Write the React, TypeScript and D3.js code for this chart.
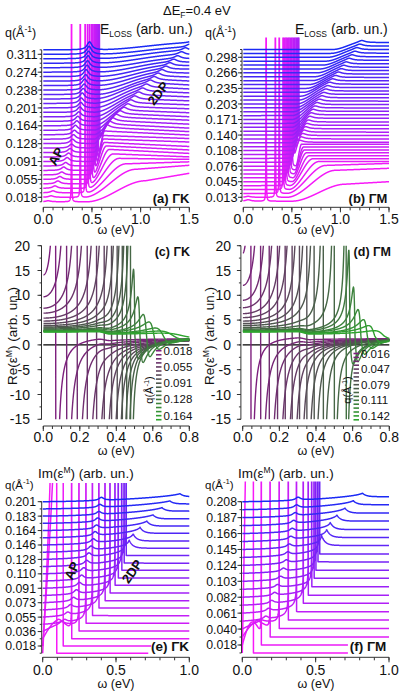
import React from "react";
import * as d3 from "d3";

const FF = "'Liberation Sans', Arial, Helvetica, sans-serif";

// ---------------- (a) ΓK  E_LOSS ----------------
const qA = [0.009,0.018,0.027,0.037,0.046,0.055,0.064,0.073,0.082,0.091,0.101,0.110,0.119,0.128,0.137,0.146,0.155,0.164,0.174,0.183,0.192,0.201,0.210,0.219,0.229,0.238,0.247,0.256,0.265,0.274,0.283,0.293,0.302,0.311,0.320];
const qTickA = ["0.018","0.055","0.091","0.128","0.164","0.201","0.238","0.274","0.311"];
const spkA = [0.29,0.38,0.43,0.455,0.475,0.495,0.51,0.525,0.54,0.55,0.56,0.57,0.575,0,0,0,0,0,0,0,0,0,0,0,0,0,0,0,0,0,0,0,0,0,0];
const apPA = [0.05,0.08,0.1,0.12,0.15,0.17,0.19,0.21,0.23,0.245,0.26,0.275,0.29,0.3,0.31,0.32,0.33,0.345,0.355,0.365,0.375,0.385,0.39,0.4,0.41,0.42,0.425,0.435,0.44,0.45,0.455,0.46,0.465,0.47,0.475];
const apAA = [1,1.5,2,2.5,3,3,3,3.5,3.5,4,4,4,4,4.5,4.5,4.5,5,5,5,5,5.5,5.5,5.5,6,6,6,6.5,6.5,7,7,7,7.5,7.5,8,8];
const r0A = [0.45,0.42,0.44,0.46,0.48,0.5,0.51,0.52,0.54,0.55,0.56,0.52,0.52,0.52,0.52,0.52,0.52,0.52,0.52,0.52,0.52,0.52,0.52,0.52,0.55,0.55,0.55,0.55,0.55,0.55,0.55,0.55,0.55,0.55,0.55];
const r1A = [1.05,0.95,0.85,0.78,0.72,0.68,0.65,0.63,0.62,0.62,0.63,0.65,0.68,0.71,0.75,0.79,0.83,0.87,0.9,0.94,0.98,1.02,1.06,1.1,1.14,1.18,1.22,1.26,1.3,1.34,1.38,1.42,1.46,1.5,1.55];
const rHA = [21,28,29,30,30,30,29,28,27,26,26,25,24,23,22,21,20,19,18.5,18,17.5,17,16.5,16,15,14,13,12,11,10,9,8.5,8,7,7];
const eHA = [28.5,32,31,29,27,26,25,24,24,23,22,21,20,19.5,19,18,17.5,17,16.5,16,15.5,15,14.5,14,13.5,13,12.5,12,11,10,9,8.5,8,7,7];
const pkA = [0,0,0,0,0,0,0,0,0,0,0,3,3,3,3,3,3,3,3,3,3,3,3,3,3,3,3,3,3,3,3,3,3,3,3];

// ---------------- (b) ΓM  E_LOSS ----------------
const qB = [0.005,0.013,0.021,0.029,0.037,0.045,0.053,0.061,0.068,0.076,0.084,0.092,0.100,0.108,0.116,0.124,0.132,0.140,0.148,0.156,0.164,0.171,0.179,0.187,0.195,0.203,0.211,0.219,0.227,0.235,0.243,0.251,0.259,0.266,0.274,0.282,0.290,0.298,0.306,0.314];
const qTickB = ["0.013","0.045","0.076","0.108","0.140","0.171","0.203","0.235","0.266","0.298"];
const spkB = [0.235,0.33,0.37,0.41,0.425,0.44,0.455,0.47,0.485,0.5,0.515,0.53,0.545,0.56,0.57,0,0,0,0,0,0,0,0,0,0,0,0,0,0,0,0,0,0,0,0,0,0,0,0,0];
const apPB = [0.05,0.05,0,0,0,0,0,0,0,0,0,0,0,0,0,0,0,0,0,0,0,0,0,0,0,0,0,0,0,0,0,0,0,0,0,0,0,0,0,0];
const apAB = [1.5,1,0,0,0,0,0,0,0,0,0,0,0,0,0,0,0,0,0,0,0,0,0,0,0,0,0,0,0,0,0,0,0,0,0,0,0,0,0,0];
const r0B = [0.5,0.45,0.45,0.47,0.48,0.5,0.51,0.52,0.53,0.54,0.5,0.5,0.5,0.5,0.5,0.5,0.5,0.5,0.5,0.5,0.5,0.5,0.5,0.51,0.53,0.55,0.57,0.59,0.62,0.65,0.68,0.71,0.735,0.76,0.79,0.82,0.85,0.87,0.9,0.92];
const r1B = [1.05,0.95,0.85,0.78,0.72,0.68,0.65,0.63,0.62,0.6,0.58,0.595,0.61,0.625,0.64,0.655,0.67,0.685,0.7,0.72,0.74,0.76,0.785,0.81,0.83,0.85,0.87,0.89,0.92,0.95,0.98,1.01,1.035,1.06,1.09,1.12,1.15,1.17,1.2,1.22];
const rHB = [17,27,28,28,27,26,25,24,23,22,20,19.5,19,18.5,18,17.5,17,16.8,16.4,16,15.5,15,14.5,14,13.5,13,12.5,12,11.5,11,10.5,10,9.5,9,8.7,8.3,8,7.7,7.3,7];
const eHB = [19.5,29,30,28,27,26,25,24,23,22,20,19.5,19,18.5,18,17.5,17,16.8,16.4,16,15.5,15,14.5,14,13.5,13,12.5,12,11.5,11,10.5,10,9.5,9,8.7,8.3,8,7.7,7.3,7];
const pkB = [0,0,0,0,0,0,0,0,0,0,2,2,2,2,2,2,2,2,2,2,2,2,2,2,2,2,2,2,2,2,2,2,2,2,2,2,2,2,2,2];

// ---------------- (c) ΓK  Re(eps) ----------------
const qC = [0.018,0.027,0.037,0.046,0.055,0.064,0.073,0.082,0.091,0.101,0.110,0.119,0.128,0.137,0.146,0.155,0.164,0.174];
const legC = ["0.018","0.055","0.091","0.128","0.164"];
const pC = [0.068,0.128,0.186,0.241,0.292,0.334,0.374,0.405,0.433,0.457,0.478,0.502,0.53,0.566,0.607,0.658,0.712,0.763];
const e0C = [14.1,9.7,7.4,6.4,5.4,4.8,4.3,3.9,3.6,3.4,3.2,3.0,2.9,2.8,2.8,2.7,2.7,2.6];
const peakC = [99,99,99,99,99,99,99,99,99,99,99,15,9.5,6,4.5,3.3,2.7,2.3];
const dipC = [-99,-99,-99,-99,-99,-99,-99,-99,-99,-99,-99,-3,-3.7,-2.5,-1,0.3,1.0,1.4];
const einfC = [1.3,1.3,1.35,1.4,1.4,1.45,1.5,1.5,1.55,1.6,1.6,1.7,1.7,1.75,1.8,1.8,1.85,1.85];

// ---------------- (d) ΓM  Re(eps) ----------------
const qD = [0.016,0.024,0.032,0.040,0.047,0.055,0.063,0.071,0.079,0.087,0.095,0.103,0.111,0.119,0.127,0.135,0.142,0.150];
const legD = ["0.016","0.047","0.079","0.111","0.142"];
const pD = [0.045,0.098,0.145,0.19,0.232,0.27,0.31,0.35,0.39,0.44,0.5,0.565,0.585,0.613,0.645,0.68,0.72,0.77];
const e0D = [18.5,12,9,7.5,6.3,5.5,4.8,4.3,3.9,3.5,3.2,3.0,2.9,2.8,2.8,2.7,2.7,2.6];
const peakD = [99,99,99,99,99,99,99,99,99,99,99,99,19,11.5,7,5,3.8,2.8];
const dipD = [-99,-99,-99,-99,-99,-99,-99,-99,-99,-99,-99,-99,-4,-3.5,-2,-0.8,0.4,1.1];
const einfD = [1.3,1.3,1.35,1.4,1.4,1.45,1.5,1.5,1.55,1.6,1.6,1.7,1.7,1.75,1.8,1.8,1.85,1.85];
const reTicks = [20,15,10,5,0,-5,-10,-15];

// ---------------- (e) ΓK  Im(eps) ----------------
const qE = [0.009,0.018,0.027,0.037,0.046,0.055,0.064,0.073,0.082,0.091,0.101,0.110,0.119,0.128,0.137,0.146,0.155,0.164,0.174,0.183,0.192,0.201];
const qTickE = ["0.018","0.036","0.055","0.073","0.091","0.110","0.128","0.146","0.164","0.183","0.201"];
const pE = [0.095,0.14,0.198,0.248,0.295,0.339,0.384,0.425,0.459,0.493,0.516,0.539,0.555,0.57,0.59,0.617,0.664,0.71,0.753,0.814,0.868,0.937];
const cE = [275,300,4,3.5,3,3,2.5,2.5,2,2,2,2,2,2,1.5,1.5,1.5,1.5,1.5,1.2,1.2,1];
const hE = [999,999,999,999,999,999,999,999,999,999,999,999,999,999,8,7,6,5,4,3.5,3,3];
const postE = [0,0,0,0.5,1,1.5,2,2,2.5,3,3,3.5,3.5,4,4,4,4.5,4.5,4.5,5,5,5];
const archE = [0,0,15,5,0,0,0,0,0,0,0,0,0,0,0,0,0,0,0,0,0,0];
const apPE = [0.05,0.08,0.11,0.13,0.15,0.17,0.19,0.21,0.23,0.25,0.265,0.28,0.3,0.315,0.33,0.345,0.357,0.367,0.375,0.383,0.39,0.4];
const apAE = [0,0,2,3,3,3,3.5,3.5,4,4,4,4,4,4,4,4,4,3.5,3.5,3,3,3];
const endE = [0.72,0.74,1,1,1,1,1,1,1,1,1,1,1,1,1,1,1,1,1,1,1,1];

// ---------------- (f) ΓM  Im(eps) ----------------
const qF = [0.008,0.018,0.029,0.040,0.050,0.061,0.071,0.082,0.092,0.103,0.113,0.124,0.134,0.145,0.155,0.166,0.176,0.187,0.197,0.208];
const qTickF = ["0.018","0.040","0.061","0.082","0.103","0.124","0.145","0.166","0.187","0.208"];
const pF = [0.075,0.13,0.19,0.252,0.314,0.37,0.416,0.45,0.473,0.489,0.502,0.515,0.527,0.54,0.575,0.6,0.645,0.7,0.757,0.82];
const cF = [600,5,4,3.5,3,3,2.5,2.5,2,2,2,2,2,1.5,1.5,1.5,1.5,1.5,1.2,1];
const hF = [999,999,999,999,999,999,999,999,999,999,999,999,999,10,8,7,6,5,4,3.5];
const postF = [0,0,0,0.5,1,1.5,2,2,2.5,3,3,3.5,3.5,4,4,4,4.5,4.5,5,5];
const archF = [0,20,12,5,0,0,0,0,0,0,0,0,0,0,0,0,0,0,0,0];
const apPF = [0.04,0.07,0.1,0.13,0.16,0.18,0.2,0.22,0.24,0.26,0.28,0.3,0.31,0.32,0.33,0.34,0.35,0.36,0.37,0.38];
const apAF = [0,0,2,2,3,3,3,3,3,3,3,3,3,3,3,3,3,3,3,3];
const endF = [0.72,0.72,1,1,1,1,1,1,1,1,1,1,1,1,1,1,1,1,1,1];

// ---------------- helpers ----------------
type Pt = [number, number];
const lor = (w: number, c: number, g: number) => (g * g) / ((w - c) * (w - c) + g * g);
const sstep = (t: number) => { const u = Math.max(0, Math.min(1, t)); return u * u * (3 - 2 * u); };

function lossCurve(i: number, d: any, wmax: number): Pt[] {
  const pts: Pt[] = [];
  const n = Math.round(wmax / 0.001);
  for (let k = 0; k <= n; k++) {
    const w = k * 0.001;
    let h = 0;
    if (d.spk[i] > 0) h += 420 * lor(w, d.spk[i], 0.0011);
    if (d.apA[i] > 0) h += d.apA[i] * lor(w, d.apP[i], 0.03);
    const r0 = d.r0[i], r1 = d.r1[i];
    h += d.rH[i] * sstep((w - r0) / (r1 - r0));
    if (w > r1 && wmax > r1) h += (d.eH[i] - d.rH[i]) * (w - r1) / (wmax - r1);
    if (d.pk[i] > 0) h += d.pk[i] * lor(w, r1, 0.04);
    pts.push([w, Math.min(h, 400)]);
  }
  return pts;
}

function imCurve(i: number, d: any): Pt[] {
  const p = d.p[i], c = d.c[i], hk = d.h[i], post = d.post[i], arch = d.arch[i], end = d.end[i];
  const spike = hk >= 999;
  const e = spike ? 1e-4 : (c / hk) ** 2;
  const val = (w: number) => {
    let v = d.apA[i] > 0 ? d.apA[i] * lor(w, d.apP[i], 0.02) : 0;
    if (w < p) {
      const x = w / p;
      v += (c * x) / Math.sqrt(1 - x * x + e) + arch * Math.sin(Math.PI * x) + post * x * x;
    } else {
      v += post + (spike ? 0 : hk * Math.exp(-(w - p) / 0.025));
    }
    return Math.min(v, 400);
  };
  const pts: Pt[] = [];
  let ins = false;
  const n = Math.round(end / 0.002);
  for (let k = 0; k <= n; k++) {
    const w = k * 0.002;
    if (!ins && w >= p) { ins = true; if (spike) pts.push([p, 400]); }
    pts.push([w, val(w)]);
  }
  return pts;
}

function reCurve(i: number, d: any): Pt[] {
  const p = d.p[i], e0 = d.e0[i], einf = d.einf[i], stp = 0.5;
  const S = Math.max(1e-4, (e0 - einf - stp) * p * p);
  const gL = d.peak[i] >= 90 ? 0.0002 : S / (2 * p * (d.peak[i] - einf));
  const gR = d.dip[i] <= -90 ? 0.0002 : S / (2 * p * (einf - d.dip[i]));
  const pts: Pt[] = [];
  for (let k = 0; k <= 800; k++) {
    const w = k * 0.001;
    const eb = einf + stp * (1 - sstep((w - 0.3) / 0.07));
    const D = p * p - w * w;
    const g = w < p ? gL : gR;
    let v = eb + (S * D) / (D * D + g * g * w * w);
    v = Math.max(-60, Math.min(60, v));
    pts.push([w, v]);
  }
  return pts;
}

const magBlue = (t: number) => d3.interpolateRgb("#f81af8", "#1a2af5")(t);
const purGreen = d3.piecewise(d3.interpolateRgb, ["#7d1f7d", "#4b5a4b", "#2ea52e"]);

// ---------------- components ----------------
function QLabel({ x, y, size = 12.5 }: { x: number; y: number; size?: number }) {
  return (
    <text x={x} y={y} fontSize={size} fill="#111">
      q(Å<tspan fontSize={size * 0.68} dy={-size * 0.42}>-1</tspan>
      <tspan dy={size * 0.42}>)</tspan>
    </text>
  );
}

function StackPanel(props: {
  id: string; xs: d3.ScaleLinear<number, number>; ys: number[]; curves: Pt[][]; colors: string[];
  clip: [number, number, number, number]; tickIdx: number[]; tickLabels: string[];
  axisX: number; labelX: number; axisY: number; xTicks: number[]; xMinor: number[];
  tickLabelY: number; sw: number; fs: number;
}) {
  const { id, xs, ys, curves, colors, clip, tickIdx, tickLabels, axisX, labelX, axisY, xTicks, xMinor, tickLabelY, sw, fs } = props;
  const line = d3.line<Pt>();
  const yTop = Math.min(...ys), yBot = Math.max(...ys);
  return (
    <g>
      <defs>
        <clipPath id={id}><rect x={clip[0]} y={clip[1]} width={clip[2]} height={clip[3]} /></clipPath>
      </defs>
      <g clipPath={`url(#${id})`}>
        {curves.map((c, i) => (
          <path key={i} d={line(c.map(([w, h]) => [xs(w), ys[i] - h] as Pt)) || ""} fill="none" stroke={colors[i]} strokeWidth={sw} strokeLinejoin="round" />
        ))}
      </g>
      <line x1={axisX} x2={axisX} y1={yTop} y2={yBot} stroke="#333" strokeWidth={1} />
      {ys.map((y, i) => (
        <line key={i} x1={axisX - 2} x2={axisX} y1={y} y2={y} stroke="#333" strokeWidth={1} />
      ))}
      {tickIdx.map((ti, k) => (
        <g key={k}>
          <line x1={axisX - 4} x2={axisX} y1={ys[ti]} y2={ys[ti]} stroke="#333" strokeWidth={1} />
          <text x={labelX} y={ys[ti] + fs * 0.36} fontSize={fs} textAnchor="end" fill="#111">{tickLabels[k]}</text>
        </g>
      ))}
      <line x1={xs.range()[0]} x2={xs.range()[1]} y1={axisY} y2={axisY} stroke="#333" strokeWidth={1} />
      {xMinor.map((v, k) => (
        <line key={k} x1={xs(v)} x2={xs(v)} y1={axisY} y2={axisY + 3} stroke="#333" strokeWidth={1} />
      ))}
      {xTicks.map((v, k) => (
        <g key={k}>
          <line x1={xs(v)} x2={xs(v)} y1={axisY} y2={axisY + 5} stroke="#333" strokeWidth={1} />
          <text x={xs(v)} y={tickLabelY} fontSize={14} textAnchor="middle" fill="#111">{d3.format(".1f")(v)}</text>
        </g>
      ))}
    </g>
  );
}

function RePanel(props: {
  id: string; x0: number; x1: number; d: any; q: number[]; leg: string[]; tag: string;
  ylabX: number; tickLabX: number; legX: number; legY0: number; legDy: number;
}) {
  const { id, x0, x1, d, q, leg, tag, ylabX, tickLabX, legX, legY0, legDy } = props;
  const xs = d3.scaleLinear().domain([0, 0.8]).range([x0, x1]);
  const ys = d3.scaleLinear().domain([-15, 20]).range([419.3, 245.7]);
  const line = d3.line<Pt>();
  const cols = q.map((_, i) => purGreen(i / (q.length - 1)));
  const axisX = x0 - 1.8;
  return (
    <g>
      <defs>
        <clipPath id={id}><rect x={x0} y={245.7} width={x1 - x0 + 1} height={419.3 - 245.7} /></clipPath>
      </defs>
      <line x1={x0} x2={x1} y1={ys(0)} y2={ys(0)} stroke="#000" strokeWidth={1.2} />
      <g clipPath={`url(#${id})`}>
        {q.map((_, i) => (
          <path key={i} d={line(reCurve(i, d).map(([w, v]) => [xs(w), ys(v)] as Pt)) || ""} fill="none" stroke={cols[i]} strokeWidth={1.4} />
        ))}
      </g>
      <line x1={axisX} x2={axisX} y1={245.7} y2={419.3} stroke="#333" />
      {d3.range(-15, 20.1, 2.5).map((v, k) => (
        <line key={k} x1={axisX - 2} x2={axisX} y1={ys(v)} y2={ys(v)} stroke="#333" />
      ))}
      {reTicks.map((v, k) => (
        <g key={k}>
          <line x1={axisX - 4} x2={axisX} y1={ys(v)} y2={ys(v)} stroke="#333" />
          <text x={tickLabX} y={ys(v) + 5} fontSize={14} textAnchor="end" fill="#111">{v}</text>
        </g>
      ))}
      <line x1={x0} x2={x1} y1={426} y2={426} stroke="#333" />
      {d3.range(0, 0.801, 0.05).map((v, k) => (
        <line key={k} x1={xs(v)} x2={xs(v)} y1={426} y2={429} stroke="#333" />
      ))}
      {[0, 0.2, 0.4, 0.6, 0.8].map((v, k) => (
        <g key={k}>
          <line x1={xs(v)} x2={xs(v)} y1={426} y2={431} stroke="#333" />
          <text x={xs(v)} y={442} fontSize={14} textAnchor="middle" fill="#111">{d3.format(".1f")(v)}</text>
        </g>
      ))}
      <text x={(x0 + x1) / 2} y={455} fontSize={12.5} textAnchor="middle" fill="#111">ω (eV)</text>
      <text transform={`translate(${ylabX},336) rotate(-90)`} fontSize={13.5} textAnchor="middle" fill="#111">
        Re(ε<tspan fontSize={8.5} dy={-5}>M</tspan><tspan dy={5}>) (arb. un.)</tspan>
      </text>
      <text x={x1 - 17} y={256} fontSize={12.5} fontWeight="bold" textAnchor="middle" fill="#111">{tag}</text>
      {q.map((_, i) => (
        <line key={i} x1={legX} x2={legX + 5.5} y1={legY0 - 2 + i * legDy} y2={legY0 - 2 + i * legDy} stroke={cols[i]} strokeWidth={1.6} />
      ))}
      {leg.map((s, k) => (
        <text key={k} x={legX + 7.5} y={legY0 + 2 + k * 4 * legDy} fontSize={11.5} fill="#111">{s}</text>
      ))}
      <g transform={`translate(${legX - 3},390) rotate(-90)`}>
        <text x={0} y={0} fontSize={11} textAnchor="middle" fill="#111">
          q(Å<tspan fontSize={7.5} dy={-4}>-1</tspan><tspan dy={4}>)</tspan>
        </text>
      </g>
    </g>
  );
}

export default function App() {
  // (a)
  const xA = d3.scaleLinear().domain([0, 1.5]).range([43.3, 189.3]);
  const dA = { spk: spkA, apP: apPA, apA: apAA, r0: r0A, r1: r1A, rH: rHA, eH: eHA, pk: pkA };
  const curvesA = qA.map((_, i) => lossCurve(i, dA, 1.5));
  const ysA = qA.map((_, i) => 197.3 - (197.3 - 54.3) * (i - 1) / 32);
  // (b)
  const xB = d3.scaleLinear().domain([0, 1.5]).range([243.3, 389]);
  const dB = { spk: spkB, apP: apPB, apA: apAB, r0: r0B, r1: r1B, rH: rHB, eH: eHB, pk: pkB };
  const curvesB = qB.map((_, i) => lossCurve(i, dB, 1.5));
  const ysB = qB.map((_, i) => 197.3 - (197.3 - 57.3) * (i - 1) / 36);
  // (e)
  const xE = d3.scaleLinear().domain([0, 1]).range([42.7, 189.3]);
  const dE = { p: pE, c: cE, h: hE, post: postE, arch: archE, apP: apPE, apA: apAE, end: endE };
  const curvesE = qE.map((_, i) => imCurve(i, dE));
  const ysE = qE.map((_, i) => 646 - (646 - 501.7) * (i - 1) / 20);
  // (f)
  const xF = d3.scaleLinear().domain([0, 1]).range([242.3, 389]);
  const dF = { p: pF, c: cF, h: hF, post: postF, arch: archF, apP: apPF, apA: apAF, end: endF };
  const curvesF = qF.map((_, i) => imCurve(i, dF));
  const ysF = qF.map((_, i) => 645 - (645 - 501.7) * (i - 1) / 18);

  const dC = { p: pC, e0: e0C, peak: peakC, dip: dipC, einf: einfC };
  const dD = { p: pD, e0: e0D, peak: peakD, dip: dipD, einf: einfD };

  const colsA = qA.map((_, i) => magBlue(i / (qA.length - 1)));
  const colsB = qB.map((_, i) => magBlue(i / (qB.length - 1)));
  const colsE = qE.map((_, i) => magBlue(i / (qE.length - 1)));
  const colsF = qF.map((_, i) => magBlue(i / (qF.length - 1)));

  return (
    <svg width={399} height={693} viewBox="0 0 399 693" style={{ position: "absolute", left: 0, top: 0 }} fontFamily={FF}>
      <rect x={0} y={0} width={399} height={693} fill="#fff" />
      <text x={163} y={15} fontSize={13} fill="#111">ΔE<tspan fontSize={8.5} dy={2.5}>F</tspan><tspan dy={-2.5}>=0.4 eV</tspan></text>

      {/* (a) */}
      <StackPanel id="clipA" xs={xA} ys={ysA} curves={curvesA} colors={colsA} clip={[42, 24, 149, 182]}
        tickIdx={[1, 5, 9, 13, 17, 21, 25, 29, 33]} tickLabels={qTickA} axisX={41.7} labelX={37.5}
        axisY={207.3} xTicks={[0, 0.5, 1, 1.5]} xMinor={d3.range(0, 1.501, 0.1)} tickLabelY={224} sw={1.5} fs={12.8} />
      <QLabel x={5} y={37} />
      <text x={100} y={34} fontSize={14} fill="#111">E<tspan fontSize={8.5} dy={3}>LOSS</tspan><tspan fontSize={14} dy={-3}> (arb. un.)</tspan></text>
      <text x={171} y={202.5} fontSize={13} fontWeight="bold" textAnchor="middle" fill="#111">(a) ΓK</text>
      <text x={116} y={233.5} fontSize={12.5} textAnchor="middle" fill="#111">ω (eV)</text>
      <text transform="translate(57,157) rotate(-62)" fontSize={13} fontWeight="bold" textAnchor="middle" dominantBaseline="middle" fill="#111">AP</text>
      <text transform="translate(159,94) rotate(-52)" fontSize={13} fontWeight="bold" textAnchor="middle" dominantBaseline="middle" fill="#111">2DP</text>

      {/* (b) */}
      <StackPanel id="clipB" xs={xB} ys={ysB} curves={curvesB} colors={colsB} clip={[242, 37.5, 149, 168]}
        tickIdx={[1, 5, 9, 13, 17, 21, 25, 29, 33, 37]} tickLabels={qTickB} axisX={242} labelX={237.5}
        axisY={207.3} xTicks={[0, 0.5, 1, 1.5]} xMinor={d3.range(0, 1.501, 0.1)} tickLabelY={224} sw={1.5} fs={12.8} />
      <QLabel x={205} y={37} />
      <text x={295} y={34} fontSize={14} fill="#111">E<tspan fontSize={8.5} dy={3}>LOSS</tspan><tspan fontSize={14} dy={-3}> (arb. un.)</tspan></text>
      <text x={368} y={202.5} fontSize={13} fontWeight="bold" textAnchor="middle" fill="#111">(b) ΓM</text>
      <text x={316} y={233.5} fontSize={12.5} textAnchor="middle" fill="#111">ω (eV)</text>

      {/* (c), (d) */}
      <RePanel id="clipC" x0={43.3} x1={189.3} d={dC} q={qC} leg={legC} tag="(c) ΓK" ylabX={17} tickLabX={30} legX={156} legY0={352.7} legDy={4.06} />
      <RePanel id="clipD" x0={242.7} x1={389.3} d={dD} q={qD} leg={legD} tag="(d) ΓM" ylabX={213.5} tickLabX={231} legX={353.5} legY0={355.5} legDy={3.9} />

      {/* (e) */}
      <StackPanel id="clipE" xs={xE} ys={ysE} curves={curvesE} colors={colsE} clip={[42, 483, 149, 172]}
        tickIdx={[1, 3, 5, 7, 9, 11, 13, 15, 17, 19, 21]} tickLabels={qTickE} axisX={41.7} labelX={36}
        axisY={657.3} xTicks={[0, 0.5, 1]} xMinor={d3.range(0, 1.001, 0.1)} tickLabelY={675} sw={1.5} fs={12.3} />
      <text x={38} y={478} fontSize={13.5} fill="#111">Im(ε<tspan fontSize={8.5} dy={-5}>M</tspan><tspan dy={5}>) (arb. un.)</tspan></text>
      <QLabel x={5} y={489} size={11.5} />
      <text x={170} y={651} fontSize={13.5} fontWeight="bold" textAnchor="middle" fill="#111">(e) ΓK</text>
      <text x={116} y={688} fontSize={12.5} textAnchor="middle" fill="#111">ω (eV)</text>
      <text transform="translate(73,571) rotate(-65)" fontSize={13} fontWeight="bold" textAnchor="middle" dominantBaseline="middle" fill="#111">AP</text>
      <text transform="translate(133,572) rotate(-55)" fontSize={13} fontWeight="bold" textAnchor="middle" dominantBaseline="middle" fill="#111">2DP</text>

      {/* (f) */}
      <StackPanel id="clipF" xs={xF} ys={ysF} curves={curvesF} colors={colsF} clip={[242, 481.5, 149, 174]}
        tickIdx={[1, 3, 5, 7, 9, 11, 13, 15, 17, 19]} tickLabels={qTickF} axisX={241.5} labelX={237}
        axisY={657.3} xTicks={[0, 0.5, 1]} xMinor={d3.range(0, 1.001, 0.1)} tickLabelY={675} sw={1.5} fs={12.3} />
      <text x={238} y={478} fontSize={13.5} fill="#111">Im(ε<tspan fontSize={8.5} dy={-5}>M</tspan><tspan dy={5}>) (arb. un.)</tspan></text>
      <QLabel x={205} y={489} size={11.5} />
      <text x={368} y={651} fontSize={13.5} fontWeight="bold" textAnchor="middle" fill="#111">(f) ΓM</text>
      <text x={316} y={688} fontSize={12.5} textAnchor="middle" fill="#111">ω (eV)</text>
    </svg>
  );
}
